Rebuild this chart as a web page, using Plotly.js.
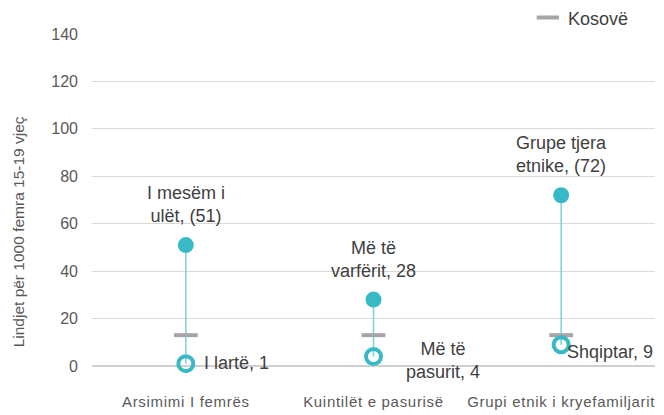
<!DOCTYPE html>
<html>
<head>
<meta charset="utf-8">
<script src="https://cdn.plot.ly/plotly-3.0.1.min.js"></script>
<style>
html,body{margin:0;padding:0;background:#fff;}
#chart{width:664px;height:415px;}
.xtick text{letter-spacing:0.7px;}
</style>
</head>
<body>
<div id="chart"></div>
<script>
// Data
const categories = ["Arsimimi I femrës", "Kuintilët e pasurisë", "Grupi etnik i kryefamiljarit"];
const maxValues = [51, 28, 72];
const minValues = [1, 4, 9];
const kosoveValues = [13, 13, 13];
const maxLabels = ["I mesëm i<br>ulët, (51)", "Më të<br>varfërit, 28", "Grupe tjera<br>etnike, (72)"];
const minLabels = ["I lartë, 1", "Më të<br>pasurit, 4", "Shqiptar, 9"];
const yTicks = [0, 20, 40, 60, 80, 100, 120, 140];
const yTitle = "Lindjet për 1000 femra 15-19 vjeç";

const teal = "#38b9c6";
const tealLine = "#7dd0d8";
const gray = "#a6a6a6";
const txt = "#404040";
const font = "Liberation Sans, Arial, sans-serif";

// connecting lines
const lx = [], ly = [];
categories.forEach((c, i) => { lx.push(c, c, null); ly.push(minValues[i], maxValues[i], null); });

const traces = [
  {x: lx, y: ly, mode: "lines", line: {color: tealLine, width: 1.5}, showlegend: false, hoverinfo: "skip", cliponaxis: false},
  {x: categories, y: kosoveValues, mode: "markers", name: "Kosovë",
   marker: {symbol: "line-ew", size: 17, line: {color: gray, width: 4}}, cliponaxis: false},
  {x: categories, y: maxValues, mode: "markers", showlegend: false,
   marker: {symbol: "circle", size: 16, color: teal}, cliponaxis: false},
  {x: categories, y: minValues, mode: "markers", showlegend: false,
   marker: {symbol: "circle-open", size: 15, color: teal, line: {width: 4, color: teal}}, cliponaxis: false}
];

// label placement (style)
const maxPos = [{xs: 0, ys: 17}, {xs: 0, ys: 17}, {xs: 0, ys: 17}];
const minPos = [{xa: "left", xs: 16, ys: 1}, {xa: "center", xs: 69, ys: -4}, {xa: "left", xs: 4, ys: -7}];

const annotations = [];
categories.forEach((c, i) => {
  annotations.push({x: c, y: maxValues[i], text: maxLabels[i], showarrow: false, xanchor: "center", yanchor: "bottom",
    xshift: maxPos[i].xs, yshift: maxPos[i].ys, font: {family: font, size: 18, color: txt}, align: "center"});
  annotations.push({x: c, y: minValues[i], text: minLabels[i], showarrow: false, xanchor: minPos[i].xa, yanchor: "middle",
    xshift: minPos[i].xs, yshift: minPos[i].ys, font: {family: font, size: 18, color: txt}, align: "center"});
});
annotations.push({xref: "paper", yref: "paper", x: -0.13, y: 0.405, xanchor: "center", yanchor: "middle",
  text: yTitle, textangle: -90, showarrow: false, font: {family: font, size: 15.5, color: "#595959"}});

const layout = {
  width: 664, height: 415,
  margin: {l: 92, r: 9, t: 34, b: 49, autoexpand: false},
  paper_bgcolor: "#fff", plot_bgcolor: "#fff",
  font: {family: font, color: "#595959"},
  xaxis: {type: "category", range: [-0.5, 2.5], showgrid: false, zeroline: false, showline: false, ticks: "",
    tickangle: 0, tickfont: {family: font, size: 15, color: "#595959"}, ticklabelstandoff: 25, fixedrange: true},
  yaxis: {range: [0, 140], tickvals: yTicks, showgrid: true, gridcolor: "#d9d9d9", gridwidth: 1,
    zeroline: true, zerolinecolor: "#d0d0d0", zerolinewidth: 2, showline: false, ticks: "",
    tickfont: {family: font, size: 16, color: "#595959"}, ticklabelstandoff: 13},
  legend: {xref: "container", yref: "container", x: 0.795, xanchor: "left", y: 0.957, yanchor: "middle",
    bgcolor: "rgba(0,0,0,0)", font: {family: font, size: 18, color: txt}, itemwidth: 30},
  annotations: annotations,
  showlegend: true
};

Plotly.newPlot("chart", traces, layout, {displayModeBar: false, staticPlot: true});
</script>
</body>
</html>
